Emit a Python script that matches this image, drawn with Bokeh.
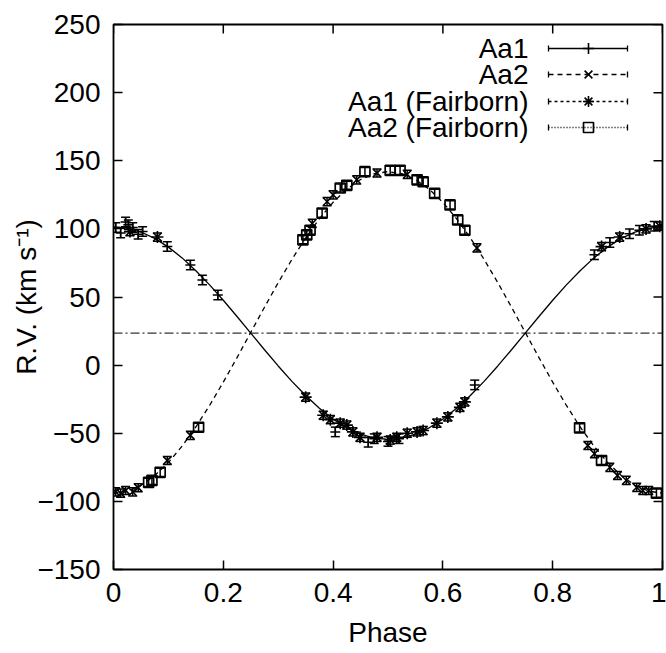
from bokeh.plotting import figure
from bokeh.models import Range1d, FixedTicker, Span
from bokeh.core.properties import value
from bokeh.embed import file_html
from bokeh.resources import INLINE

# ---------------- data ----------------
model_phase = [0.0, 0.025, 0.05, 0.075, 0.1, 0.125, 0.15, 0.175, 0.2, 0.225,
               0.25, 0.275, 0.3, 0.325, 0.35, 0.375, 0.4, 0.425, 0.45, 0.475,
               0.5, 0.525, 0.55, 0.575, 0.6, 0.625, 0.65, 0.675, 0.7, 0.725,
               0.75, 0.775, 0.8, 0.825, 0.85, 0.875, 0.9, 0.925, 0.95, 0.975, 1.0]
aa1_model = [101.5, 100.5, 97.7, 93.0, 86.6, 78.7, 69.3, 58.9, 47.6, 35.7,
             23.5, 11.3, -0.6, -11.9, -22.3, -31.7, -39.6, -46.0, -50.7, -53.5,
             -54.5, -53.5, -50.7, -46.0, -39.6, -31.7, -22.3, -11.9, -0.6, 11.3,
             23.5, 35.7, 47.6, 58.9, 69.3, 78.7, 86.6, 93.0, 97.7, 100.5, 101.5]
aa2_model = [-94.0, -92.5, -88.2, -81.1, -71.5, -59.4, -45.4, -29.6, -12.5, 5.5,
             24.0, 42.5, 60.5, 77.6, 93.4, 107.4, 119.5, 129.2, 136.2, 140.5,
             142.0, 140.5, 136.2, 129.2, 119.5, 107.4, 93.4, 77.6, 60.5, 42.5,
             24.0, 5.5, -12.5, -29.6, -45.4, -59.4, -71.5, -81.1, -88.2, -92.5, -94.0]
gamma = 23.5

aa1_phase = [0.004, 0.013, 0.022, 0.027, 0.035, 0.045, 0.053, 0.098, 0.14, 0.162,
             0.19, 0.404, 0.464, 0.475, 0.50, 0.52, 0.658, 0.876, 0.904, 0.94,
             0.958, 0.985]
aa1_rv = [101, 97, 105, 103, 101, 96, 98, 87, 73.5, 62.5,
          51.5, -49, -56.6, -54, -56, -54, -14.5, 81, 90, 96.5,
          99, 102]
aa1_err = 3.5

aa2_phase = [0.004, 0.013, 0.022, 0.035, 0.045, 0.098, 0.14, 0.362, 0.389, 0.40,
             0.443, 0.48, 0.535, 0.662, 0.864, 0.876, 0.904, 0.918, 0.934, 0.953,
             0.964, 0.975]
aa2_rv = [-93, -94, -92, -93, -90, -70, -51.5, 104, 120, 125,
          136, 141, 140, 86, -59, -65, -75, -81, -84.6, -89.7,
          -92, -92]
aa2_err = 3.0

aa1f_phase = [0.03, 0.08, 0.35, 0.382, 0.395, 0.413, 0.425, 0.436, 0.449, 0.48,
              0.504, 0.516, 0.535, 0.553, 0.564, 0.589, 0.609, 0.631, 0.64, 0.889,
              0.922, 0.97, 0.995]
aa1f_rv = [98, 94, -23.5, -36.8, -40, -42.6, -44, -49, -53, -53,
           -55, -53, -50, -49, -48, -42.6, -38, -31, -27, 87,
           94, 100, 102]
aa1f_err = 3.0

aa2f_phase = [0.064, 0.07, 0.085, 0.155, 0.345, 0.352, 0.358, 0.38, 0.413, 0.425,
              0.458, 0.504, 0.522, 0.553, 0.564, 0.585, 0.613, 0.627, 0.64, 0.849,
              0.889, 0.989]
aa2f_rv = [-86, -84.6, -78.7, -45.6, 92, 95.6, 99, 111.6, 130, 132,
           142, 143, 143, 136, 134.6, 126, 117.6, 106.6, 99, -46,
           -70, -94]
aa2f_err = 3.0

legend_labels = ["Aa1", "Aa2", "Aa1 (Fairborn)", "Aa2 (Fairborn)"]
x_ticks = [0, 0.2, 0.4, 0.6, 0.8, 1]
y_ticks = [-150, -100, -50, 0, 50, 100, 150, 200, 250]

# ---------------- layout ----------------
W, H = 666, 653
LEFT, RIGHT, TOP, BOTTOM = 113, 4, 24, 84
FONT = "Liberation Sans"
FS = "28px"
XMIN, XMAX, YMIN, YMAX = 0.0, 1.0, -150.0, 250.0
FW, FH = W - LEFT - RIGHT, H - TOP - BOTTOM
TICK_PX = 9

def px_x(px):
    return XMIN + (px - LEFT) / FW * (XMAX - XMIN)

def px_y(py):
    return YMAX - (py - TOP) / FH * (YMAX - YMIN)

p = figure(width=W, height=H, output_backend="svg", toolbar_location=None,
           x_range=Range1d(XMIN, XMAX), y_range=Range1d(YMIN, YMAX),
           min_border_left=LEFT, min_border_right=RIGHT,
           min_border_top=TOP, min_border_bottom=BOTTOM)
p.grid.visible = False
p.outline_line_color = "black"
p.outline_line_width = 1.8
p.background_fill_color = "white"
p.border_fill_color = "white"

for ax, ticks in ((p.xaxis[0], x_ticks), (p.yaxis[0], y_ticks)):
    ax.ticker = FixedTicker(ticks=ticks)
    ax.axis_line_color = None
    ax.major_tick_in = TICK_PX
    ax.major_tick_out = 0
    ax.major_tick_line_width = 1.5
    ax.major_tick_line_color = "black"
    ax.minor_tick_line_color = None
    ax.major_label_text_font = FONT
    ax.major_label_text_font_size = FS
    ax.major_label_text_color = "black"
    ax.major_label_standoff = 13
    ax.axis_label_text_font = FONT
    ax.axis_label_text_font_size = FS
    ax.axis_label_text_font_style = "normal"
    ax.axis_label_text_color = "black"
p.xaxis[0].major_label_overrides = {t: ("%g" % t) for t in x_ticks}
p.xaxis[0].axis_label = "Phase"
p.yaxis[0].axis_label = "R.V. (km s\u207b\u00b9)"
p.xaxis[0].axis_label_standoff = 12
p.yaxis[0].axis_label_standoff = -8

# mirrored inward ticks on the top and right edges
dy_tick = TICK_PX * (YMAX - YMIN) / FH
dx_tick = TICK_PX * (XMAX - XMIN) / FW
p.segment(x0=x_ticks, y0=[YMAX] * len(x_ticks), x1=x_ticks, y1=[YMAX - dy_tick] * len(x_ticks),
          line_color="black", line_width=1.5)
p.segment(x0=[XMAX] * len(y_ticks), y0=y_ticks, x1=[XMAX - dx_tick] * len(y_ticks), y1=y_ticks,
          line_color="black", line_width=1.5)

# systemic velocity
p.add_layout(Span(location=gamma, dimension="width", line_color="black",
                  line_width=1.0, line_dash="9 3 2 3"))

# model curves
p.line(model_phase, aa1_model, line_color="black", line_width=1.3)
p.line(model_phase, aa2_model, line_color="black", line_width=1.3, line_dash="5 4")

def errorbars(xs, ys, err):
    lo = [y - err for y in ys]
    hi = [y + err for y in ys]
    p.segment(x0=xs, y0=lo, x1=xs, y1=hi, line_color="black", line_width=1.5)
    p.scatter(xs, lo, marker="dash", size=9, line_color="black", line_width=1.5)
    p.scatter(xs, hi, marker="dash", size=9, line_color="black", line_width=1.5)

errorbars(aa1_phase, aa1_rv, aa1_err)
p.scatter(aa1_phase, aa1_rv, marker="cross", size=10, line_color="black", line_width=1.5)
errorbars(aa2_phase, aa2_rv, aa2_err)
p.scatter(aa2_phase, aa2_rv, marker="x", size=11, line_color="black", line_width=1.6)
errorbars(aa1f_phase, aa1f_rv, aa1f_err)
p.scatter(aa1f_phase, aa1f_rv, marker="asterisk", size=12, line_color="black", line_width=1.6)
errorbars(aa2f_phase, aa2f_rv, aa2f_err)
p.scatter(aa2f_phase, aa2f_rv, marker="square", size=10, fill_color=None,
          line_color="black", line_width=1.7)

# gnuplot-style key (top right)
row_px = [48, 74, 101, 127]
line_dashes = ["solid", "5 4", "3 3", "1 2"]
markers = ["cross", "x", "asterisk", "square"]
key_text_x = px_x(528)
key_x0, key_xm, key_x1 = px_x(548), px_x(588), px_x(627)
cap = 3.0 * (YMAX - YMIN) / FH
for lab, py, dash, mk in zip(legend_labels, row_px, line_dashes, markers):
    yd = px_y(py)
    p.text([key_text_x], [yd], text=[lab], text_align="right", text_baseline="middle",
           text_font=value(FONT), text_font_size=FS, text_color="black")
    p.line([key_x0, key_x1], [yd, yd], line_color="black", line_width=1.3, line_dash=dash)
    p.segment(x0=[key_x0, key_x1], y0=[yd - cap, yd - cap], x1=[key_x0, key_x1],
              y1=[yd + cap, yd + cap], line_color="black", line_width=1.3)
    if mk == "square":
        p.scatter([key_xm], [yd], marker=mk, size=10, fill_color=None,
                  line_color="black", line_width=1.7)
    else:
        p.scatter([key_xm], [yd], marker=mk, size=11, line_color="black", line_width=1.6)

open("out.html", "w").write(file_html(p, INLINE))
